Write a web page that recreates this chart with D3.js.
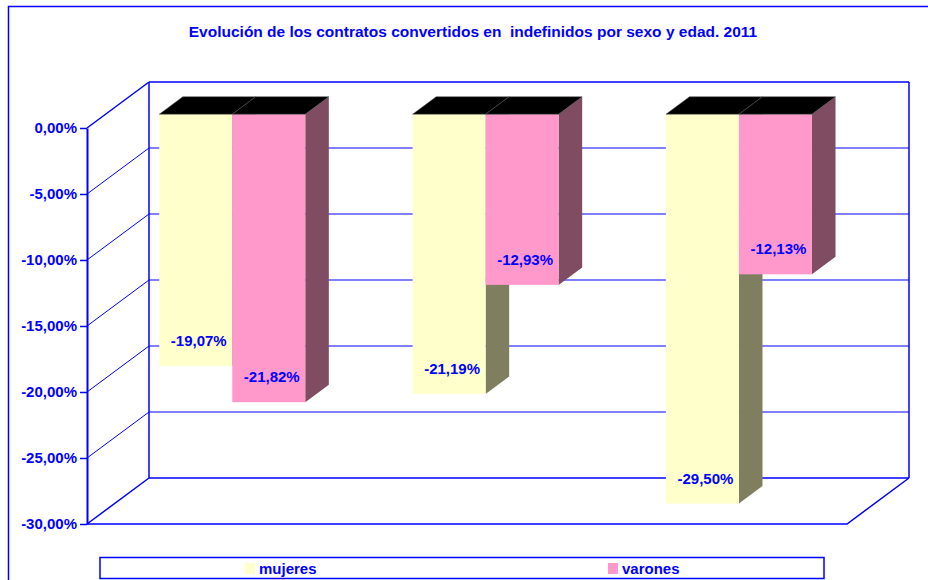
<!DOCTYPE html>
<html>
<head>
<meta charset="utf-8">
<script src="https://cdn.jsdelivr.net/npm/d3@7"></script>
<style>
body { margin: 0; background: #fff; }
svg text { font-family: "Liberation Sans", Arial, sans-serif; font-weight: bold; fill: #0000ff; }
</style>
</head>
<body>
<script>
// Datos del grafico
var categorias = ["grupo 1", "grupo 2", "grupo 3"];
var series = ["mujeres", "varones"];
var mujeres = [-19.07, -21.19, -29.50];
var varones = [-21.82, -12.93, -12.13];
var ticksY = [0, -5, -10, -15, -20, -25, -30];
var titulo = "Evolución de los contratos convertidos en  indefinidos por sexo y edad. 2011";

var width = 928, height = 580;
var plot = {left: 87, right: 847, top: 128, bottom: 524}; // plano frontal
var prof = {dx: 62, dy: 46}; // profundidad 3D
var z0 = 0.30, z1 = 0.68;     // posicion de las barras en la profundidad
var azul = "#0000ff";

var colores = {
  mujeres: {front: "#ffffcc", side: "#7f7f5f"},
  varones: {front: "#ff99cc", side: "#7f4c61"}
};

// formato con coma decimal y guion normal
var es = d3.formatLocale({decimal: ",", thousands: ".", grouping: [3], currency: ["", "€"], minus: "-"});
var fmt = function (v) { return es.format(".2f")(v) + "%"; };

var svg = d3.select("body").append("svg")
  .attr("width", width)
  .attr("height", height);

// marco exterior
svg.append("rect")
  .attr("x", 8.5).attr("y", 6.5)
  .attr("width", 940).attr("height", 600)
  .attr("fill", "none")
  .attr("stroke", azul)
  .attr("stroke-width", 1.5);

// titulo
svg.append("text")
  .attr("x", 473).attr("y", 37)
  .attr("text-anchor", "middle")
  .style("font-size", "15.5px")
  .style("white-space", "pre")
  .text(titulo);

// escalas
var yScale = d3.scaleLinear()
  .domain([-30, 0])
  .range([plot.bottom, plot.top]);

var x0 = d3.scaleBand()
  .domain(categorias)
  .range([plot.left, plot.right]);

var x1 = d3.scaleBand()
  .domain(series)
  .range([0, x0.bandwidth()])
  .paddingOuter(0.735);

// paredes: lineas de la pared del fondo y de la pared lateral
var paredes = svg.append("g")
  .attr("stroke", azul)
  .attr("fill", "none");

paredes.selectAll(".fondo")
  .data(ticksY)
  .enter().append("line")
  .attr("x1", plot.left + prof.dx)
  .attr("x2", plot.right + prof.dx)
  .attr("y1", function (d) { return yScale(d) - prof.dy; })
  .attr("y2", function (d) { return yScale(d) - prof.dy; })
  .attr("stroke-width", function (d) { return (d === 0 || d === -30) ? 1.5 : 1; });

paredes.selectAll(".lado")
  .data(ticksY)
  .enter().append("line")
  .attr("x1", plot.left)
  .attr("x2", plot.left + prof.dx)
  .attr("y1", function (d) { return yScale(d); })
  .attr("y2", function (d) { return yScale(d) - prof.dy; })
  .attr("stroke-width", function (d) { return (d === 0 || d === -30) ? 1.5 : 1; });

// verticales de la pared del fondo
paredes.selectAll(".vert")
  .data([plot.left + prof.dx, plot.right + prof.dx])
  .enter().append("line")
  .attr("x1", function (d) { return d; })
  .attr("x2", function (d) { return d; })
  .attr("y1", yScale(0) - prof.dy)
  .attr("y2", yScale(-30) - prof.dy)
  .attr("stroke-width", 1.5);

// suelo
paredes.append("path")
  .attr("d", "M" + plot.left + "," + yScale(-30) +
    "L" + plot.right + "," + yScale(-30) +
    "L" + (plot.right + prof.dx) + "," + (yScale(-30) - prof.dy))
  .attr("stroke-width", 1.5);

// eje Y
var ejeY = svg.append("g")
  .attr("transform", "translate(" + plot.left + ",0)")
  .call(d3.axisLeft(yScale).tickValues(ticksY).tickSize(7).tickSizeOuter(0).tickPadding(3).tickFormat(fmt));

ejeY.select(".domain").attr("stroke", azul).attr("stroke-width", 2);
ejeY.selectAll(".tick line").attr("stroke", azul).attr("stroke-width", 1.5);
ejeY.selectAll(".tick text")
  .attr("fill", azul)
  .style("font-family", "'Liberation Sans', Arial, sans-serif")
  .style("font-weight", "bold")
  .style("font-size", "15px");

// barras 3D
var barras = [];
categorias.forEach(function (c, i) {
  barras.push({cat: c, serie: "mujeres", value: mujeres[i]});
  barras.push({cat: c, serie: "varones", value: varones[i]});
});

var ddx = (z1 - z0) * prof.dx, ddy = (z1 - z0) * prof.dy;

var g = svg.selectAll(".barra")
  .data(barras)
  .enter().append("g")
  .attr("class", "barra");

g.each(function (d) {
  var xa = x0(d.cat) + x1(d.serie) + z0 * prof.dx;
  var xb = xa + x1.bandwidth();
  var yt = yScale(0) - z0 * prof.dy;
  var yb = yScale(d.value) - z0 * prof.dy;
  var el = d3.select(this);
  d.xa = xa; d.xb = xb; d.yb = yb;

  // cara lateral
  el.append("path")
    .attr("d", "M" + xb + "," + yt + "L" + (xb + ddx) + "," + (yt - ddy) +
      "L" + (xb + ddx) + "," + (yb - ddy) + "L" + xb + "," + yb + "Z")
    .attr("fill", colores[d.serie].side);

  // cara frontal
  el.append("rect")
    .attr("x", xa).attr("y", yt)
    .attr("width", xb - xa).attr("height", yb - yt)
    .attr("fill", colores[d.serie].front);

  // cara superior
  el.append("path")
    .attr("d", "M" + xa + "," + yt + "L" + xb + "," + yt + "L" + (xb + ddx) + "," + (yt - ddy) +
      "L" + (xa + ddx) + "," + (yt - ddy) + "Z")
    .attr("fill", "#000")
    .attr("stroke", "#555")
    .attr("stroke-width", 0.5);
});

// etiquetas de valor
svg.selectAll(".etiqueta")
  .data(barras)
  .enter().append("text")
  .attr("x", function (d) { return (d.xa + d.xb) / 2 + 3; })
  .attr("y", function (d) { return d.yb - 20; })
  .attr("text-anchor", "middle")
  .style("font-size", "15px")
  .text(function (d) { return fmt(d.value); });

// leyenda
var leyenda = svg.append("g");
leyenda.append("rect")
  .attr("x", 100).attr("y", 557.5)
  .attr("width", 724).attr("height", 21)
  .attr("fill", "#fff")
  .attr("stroke", azul)
  .attr("stroke-width", 1.5);

var leyX = d3.scalePoint().domain(series).range([245, 608]);

leyenda.selectAll(".sw")
  .data(series)
  .enter().append("rect")
  .attr("x", function (d) { return leyX(d); })
  .attr("y", 563)
  .attr("width", 10).attr("height", 11)
  .attr("fill", function (d) { return colores[d].front; });

leyenda.selectAll(".lt")
  .data(series)
  .enter().append("text")
  .attr("x", function (d) { return leyX(d) + 14; })
  .attr("y", 574)
  .style("font-size", "15px")
  .text(function (d) { return d; });
</script>
</body>
</html>
